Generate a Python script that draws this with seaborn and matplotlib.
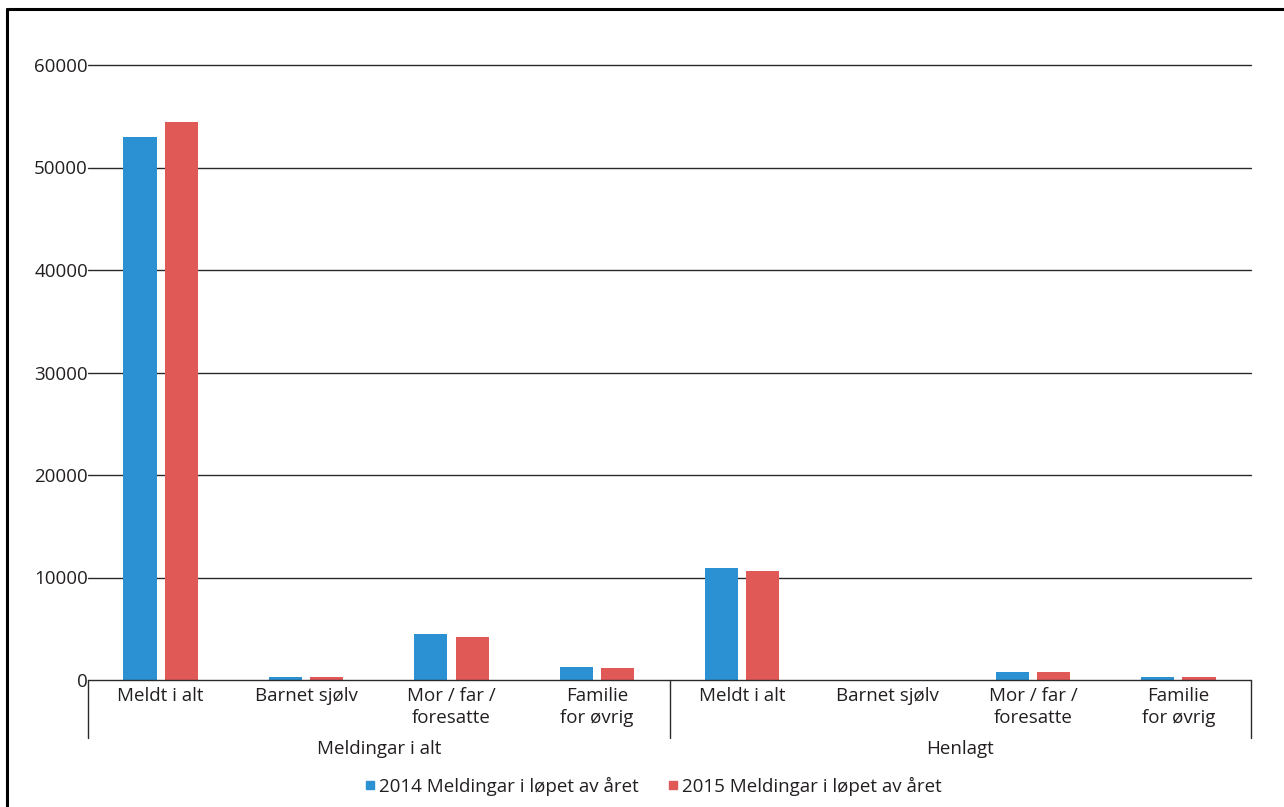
"""
Meldingar til barnevernet 2014/2015 - gruppert stolpediagram med to nivå på x-aksen
"""

import numpy as np
import pandas as pd
import matplotlib
matplotlib.use('Agg')
import matplotlib.pyplot as plt
from matplotlib.lines import Line2D
import matplotlib.transforms as mtransforms
import seaborn as sns

# ---- data ----
groups = ['Meldingar i alt', 'Henlagt']
subcats = ['Meldt i alt', 'Barnet sjølv', 'Mor / far /\nforesatte', 'Familie\nfor øvrig']
series = ['2014 Meldingar i løpet av året', '2015 Meldingar i løpet av året']
values_2014 = [53000, 290, 4480, 1300, 10970, 0, 810, 290]
values_2015 = [54400, 280, 4230, 1170, 10650, 0, 780, 260]
yticks = [0, 10000, 20000, 30000, 40000, 50000, 60000]

colors = ['#2B91D3', '#E05957']
text_col = '#231F20'
fs = 13.5

sns.set_theme(style='white')
plt.rcParams['font.family'] = ['Open Sans', 'DejaVu Sans']

keys = [f'{g}|{s}' for g in groups for s in subcats]
df = pd.DataFrame({
    'key': keys * 2,
    'value': values_2014 + values_2015,
    'serie': [series[0]] * len(keys) + [series[1]] * len(keys),
})

fig = plt.figure(figsize=(12.84, 8.07), dpi=100)
ax = fig.add_axes([88 / 1284, 1 - 680 / 807, (1251 - 88) / 1284, (680 - 65) / 807])

sns.barplot(data=df, x='key', y='value', hue='serie', order=keys, hue_order=series,
            palette=colors, width=0.57, gap=0.2, saturation=1, legend=False,
            linewidth=0, ax=ax)

ax.set_ylim(0, 60000)
ax.set_xlim(-0.5, len(keys) - 0.5)
ax.set_yticks(yticks)
ax.set_yticklabels([str(t) for t in yticks], fontsize=fs, color=text_col)
for t in yticks:
    ax.axhline(t, color='#2a2a2a', lw=1.0, zorder=3 if t == 0 else 0, clip_on=False)
ax.tick_params(axis='y', length=0, pad=0)
ax.tick_params(axis='x', length=0, pad=5)
ax.set_xticks(range(len(keys)))
ax.set_xticklabels(subcats * len(groups), fontsize=fs, color=text_col, linespacing=1.3)
ax.set_xlabel('')
ax.set_ylabel('')
for sp in ax.spines.values():
    sp.set_visible(False)

# skiljelinjer og gruppetekstar under aksen
trans = mtransforms.blended_transform_factory(ax.transData, ax.transAxes)
sep_bottom = -(738 - 680) / 615
for xs in [-0.5, 3.5, 7.5]:
    ax.plot([xs, xs], [0, sep_bottom], color='#2a2a2a', lw=1.0, transform=trans, clip_on=False)
for i, g in enumerate(groups):
    ax.text(i * 4 + 1.5, -(749 - 680) / 615, g, transform=trans, ha='center', va='center',
            fontsize=fs, color=text_col)

# forklaring
handles = [Line2D([], [], marker='s', linestyle='', markersize=6, color=c) for c in colors]
fig.legend(handles, series, loc='center', bbox_to_anchor=(651 / 1284, 1 - 786 / 807),
           ncol=2, frameon=False, fontsize=fs, handletextpad=0.0, columnspacing=1.3,
           handlelength=1.0, labelcolor=text_col)

# ramme (venstre og topp)
fig.add_artist(Line2D([7 / 1284, 7 / 1284], [0, 1 - 9 / 807], color='black', lw=2.2,
                      transform=fig.transFigure))
fig.add_artist(Line2D([7 / 1284, 1], [1 - 9 / 807, 1 - 9 / 807], color='black', lw=2.2,
                      transform=fig.transFigure))

fig.savefig('out.png', dpi=100)
plt.close(fig)
